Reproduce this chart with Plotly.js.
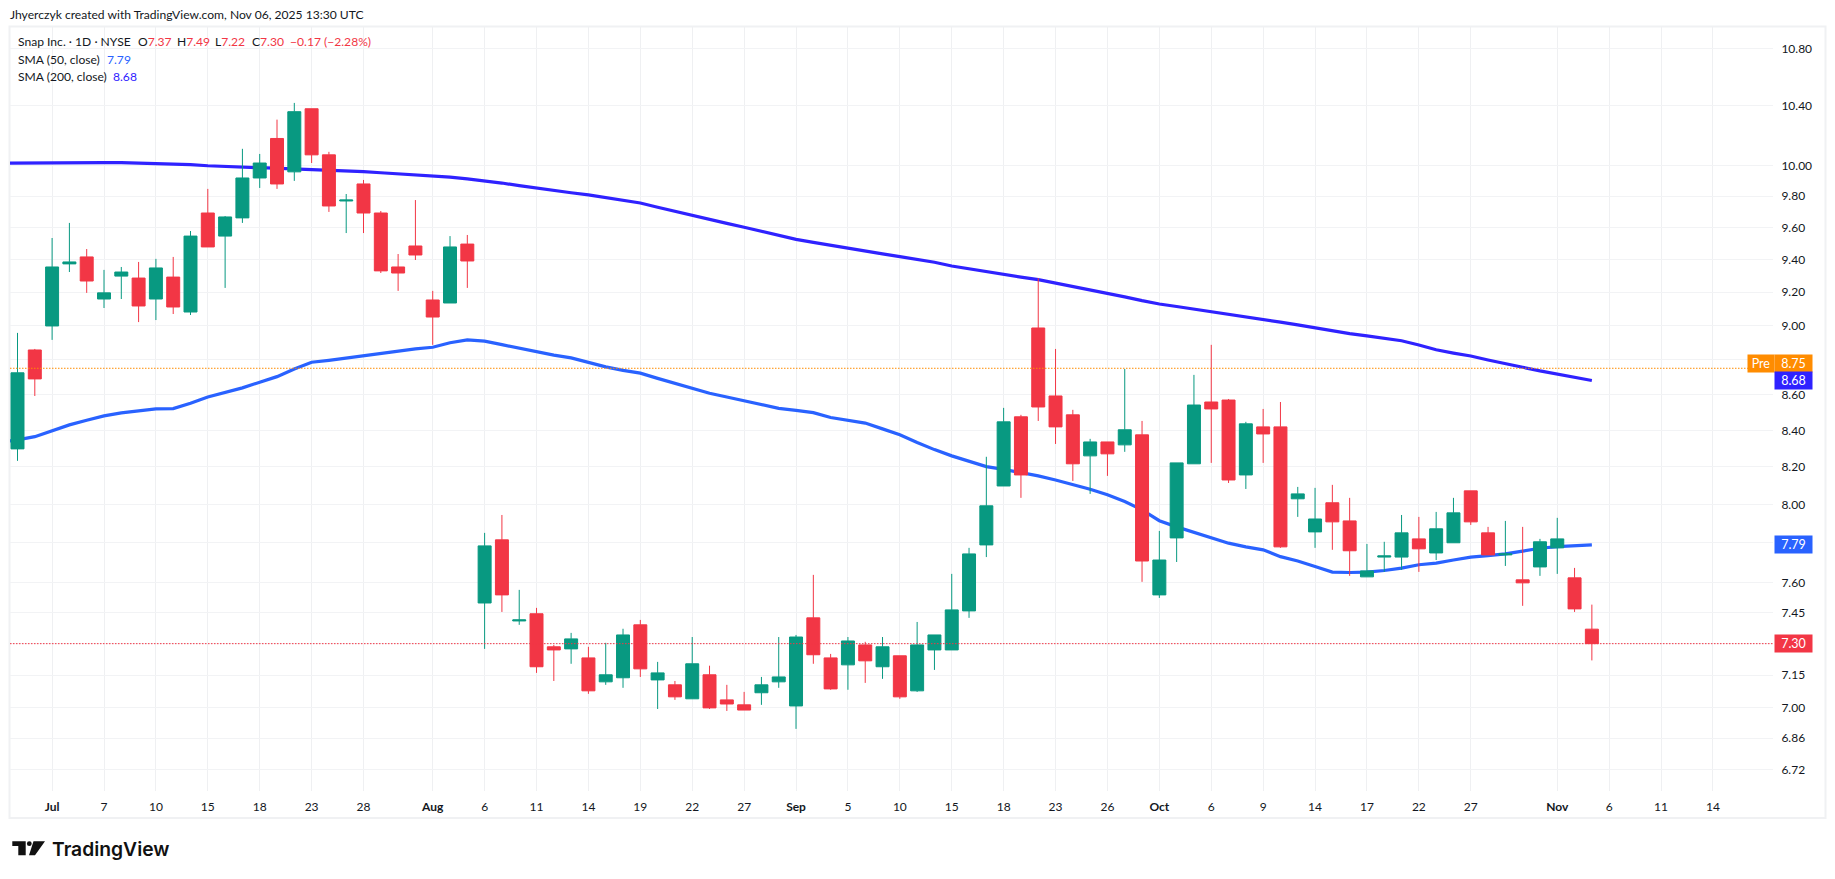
<!DOCTYPE html>
<html>
<head>
<meta charset="utf-8">
<script src="https://cdn.plot.ly/plotly-3.0.1.min.js"></script>
<style>html,body{margin:0;padding:0;background:#fff;overflow:hidden}#chart{width:1835px;height:879px}</style>
</head>
<body>
<div id="chart"></div>
<script>
const priorSession = ["Jun26"];
const sessions = ["Jun27","Jun30","Jul1","Jul2","Jul3","Jul7","Jul8","Jul9","Jul10","Jul11","Jul14","Jul15","Jul16","Jul17","Jul18","Jul21","Jul22","Jul23","Jul24","Jul25","Jul28","Jul29","Jul30","Jul31","Aug1","Aug4","Aug5","Aug6","Aug7","Aug8","Aug11","Aug12","Aug13","Aug14","Aug15","Aug18","Aug19","Aug20","Aug21","Aug22","Aug25","Aug26","Aug27","Aug28","Aug29","Sep2","Sep3","Sep4","Sep5","Sep8","Sep9","Sep10","Sep11","Sep12","Sep15","Sep16","Sep17","Sep18","Sep19","Sep22","Sep23","Sep24","Sep25","Sep26","Sep29","Sep30","Oct1","Oct2","Oct3","Oct6","Oct7","Oct8","Oct9","Oct10","Oct13","Oct14","Oct15","Oct16","Oct17","Oct20","Oct21","Oct22","Oct23","Oct24","Oct27","Oct28","Oct29","Oct30","Oct31","Nov3","Nov4","Nov5"];
const futureSessions = ["Nov6","Nov7","Nov10","Nov11","Nov12","Nov13","Nov14"];

const opens = [8.298,8.856,8.997,9.372,9.415,9.158,9.297,9.285,9.158,9.291,
9.080,9.691,9.545,9.660,9.917,10.178,9.957,10.379,10.069,9.768,
9.878,9.691,9.353,9.483,9.152,9.134,9.495,7.498,7.816,7.410,
7.445,7.285,7.275,7.232,7.119,7.138,7.391,7.128,7.105,7.040,
7.152,7.035,7.012,7.068,7.119,7.007,7.425,7.232,7.199,7.294,
7.190,7.242,7.077,7.270,7.270,7.459,7.790,8.098,8.475,8.985,
8.592,8.486,8.260,8.336,8.320,8.375,7.538,7.826,8.217,8.558,
8.569,8.157,8.419,8.419,8.030,7.857,8.009,7.914,7.628,7.728,
7.728,7.821,7.749,7.801,8.072,7.852,7.739,7.613,7.678,7.775,
7.623,7.37];
const highs = [8.956,8.862,9.533,9.628,9.464,9.335,9.353,9.384,9.403,9.415,
9.577,9.846,9.672,10.109,10.075,10.305,10.419,10.379,10.089,9.813,
9.904,9.704,9.433,9.774,9.207,9.545,9.552,7.852,7.945,7.563,
7.474,7.294,7.352,7.285,7.304,7.372,7.415,7.213,7.123,7.332,
7.195,7.105,7.072,7.142,7.332,7.342,7.638,7.251,7.332,7.309,
7.332,7.242,7.405,7.342,7.643,7.775,8.255,8.525,8.486,9.285,
8.862,8.514,8.353,8.336,8.746,8.452,7.862,8.222,8.712,8.886,
8.575,8.447,8.519,8.558,8.093,8.088,8.104,8.035,7.795,7.806,
7.945,7.935,7.961,8.035,8.072,7.883,7.914,7.883,7.821,7.930,
7.673,7.49];
const lows = [8.233,8.592,8.915,9.322,9.195,9.104,9.158,9.020,9.032,9.068,
9.062,9.477,9.225,9.628,9.852,9.846,9.898,10.015,9.698,9.564,
9.564,9.316,9.207,9.396,8.886,9.134,9.225,7.275,7.454,7.391,
7.161,7.123,7.204,7.063,7.105,7.091,7.142,6.993,7.035,7.040,
6.993,6.984,6.988,7.012,7.091,6.902,7.204,7.082,7.082,7.114,
7.133,7.040,7.072,7.175,7.270,7.425,7.728,8.098,8.035,8.452,
8.325,8.125,8.056,8.152,8.282,7.603,7.523,7.703,8.217,8.222,
8.114,8.082,8.222,7.775,7.935,7.775,7.765,7.633,7.628,7.653,
7.663,7.653,7.713,7.801,7.893,7.739,7.683,7.484,7.633,7.643,
7.454,7.22];
const closes = [8.724,8.689,9.353,9.384,9.267,9.195,9.322,9.116,9.347,9.110,
9.545,9.477,9.666,9.917,10.015,9.878,10.359,10.069,9.736,9.774,
9.691,9.329,9.316,9.427,9.050,9.477,9.390,7.785,7.538,7.415,
7.190,7.270,7.323,7.077,7.152,7.342,7.180,7.161,7.049,7.204,
6.998,7.016,6.988,7.105,7.142,7.332,7.247,7.086,7.313,7.218,
7.285,7.049,7.294,7.342,7.464,7.744,7.993,8.447,8.157,8.530,
8.419,8.217,8.336,8.271,8.403,7.708,7.713,8.222,8.541,8.519,
8.130,8.436,8.380,7.780,8.056,7.924,7.909,7.760,7.658,7.734,
7.852,7.770,7.873,7.956,7.909,7.739,7.744,7.598,7.806,7.821,
7.469,7.30];
const sma50 = [8.334,8.347,8.365,8.397,8.430,8.456,8.480,8.497,8.510,8.519,8.521,
8.551,8.586,8.611,8.638,8.670,8.702,8.746,8.785,8.796,8.810,
8.821,8.837,8.849,8.862,8.872,8.898,8.915,8.908,8.887,8.865,
8.845,8.826,8.810,8.785,8.758,8.738,8.722,8.692,8.664,8.636,
8.607,8.586,8.565,8.542,8.522,8.511,8.498,8.471,8.456,8.440,
8.408,8.375,8.333,8.294,8.260,8.230,8.202,8.187,8.171,8.152,
8.130,8.106,8.081,8.051,8.016,7.972,7.915,7.883,7.854,7.828,
7.799,7.780,7.765,7.730,7.708,7.680,7.652,7.650,7.652,7.660,
7.672,7.689,7.697,7.713,7.728,7.735,7.744,7.758,7.773,7.781,
7.785,7.79];
const sma200 = [10.014,10.015,10.018,10.019,10.020,10.019,10.017,10.017,10.015,10.012,10.007,
10.004,9.997,9.993,9.989,9.985,9.981,9.976,9.972,9.968,9.963,
9.959,9.951,9.944,9.938,9.931,9.922,9.911,9.900,9.884,9.867,
9.850,9.835,9.821,9.807,9.789,9.771,9.755,9.728,9.701,9.674,
9.650,9.625,9.601,9.575,9.550,9.524,9.506,9.487,9.469,9.451,
9.434,9.417,9.399,9.382,9.359,9.341,9.322,9.307,9.291,9.275,
9.255,9.234,9.213,9.192,9.171,9.148,9.128,9.113,9.098,9.082,
9.068,9.052,9.038,9.020,9.003,8.985,8.968,8.952,8.939,8.924,
8.910,8.885,8.857,8.838,8.821,8.798,8.775,8.756,8.735,8.718,
8.701,8.68];

const priceTicks = [10.8,10.4,10,9.8,9.6,9.4,9.2,9,8.8,8.6,8.4,8.2,8,7.8,7.6,7.45,7.3,7.15,7,6.86,6.72];
const timeTickKeys = ["Jul1","Jul7","Jul10","Jul15","Jul18","Jul23","Jul28","Aug1","Aug6","Aug11","Aug14","Aug19","Aug22","Aug27","Sep2","Sep5","Sep10","Sep15","Sep18","Sep23","Sep26","Oct1","Oct6","Oct9","Oct14","Oct17","Oct22","Oct27","Nov3","Nov6","Nov11","Nov14"];
const timeTickLabels = ["<b>Jul</b>","7","10","15","18","23","28","<b>Aug</b>","6","11","14","19","22","27","<b>Sep</b>","5","10","15","18","23","26","<b>Oct</b>","6","9","14","17","22","27","<b>Nov</b>","6","11","14"];

const UP = "#089981", DOWN = "#F23645", BLUE50 = "#2962FF", BLUE200 = "#2F22FF", PRE = "#FF8C00", INK = "#131722";
const FONT = "Lato, 'Noto Sans', sans-serif";
const lastClose = 7.30, prePrice = 8.75, last50 = 7.79, last200 = 8.68;

const fx = px => (px - 10) / 1763, fy = py => (791 - py) / 764;
const yLog = [1 - (791 - 165.3) / 3500, 1 + (165.3 - 27) / 3500];

const allCats = priorSession.concat(sessions, futureSessions);
const smaX = priorSession.concat(sessions);

const traces = [
  {type:"scatter", mode:"lines", x:smaX, y:sma200, xaxis:"x", yaxis:"y", line:{color:BLUE200,width:3.2}, hoverinfo:"skip"},
  {type:"scatter", mode:"lines", x:smaX, y:sma50, xaxis:"x", yaxis:"y", line:{color:BLUE50,width:3.2}, hoverinfo:"skip"},
  {type:"candlestick", x:sessions, open:opens, high:highs, low:lows, close:closes, xaxis:"x", yaxis:"y2",
   increasing:{line:{color:UP,width:1},fillcolor:UP}, decreasing:{line:{color:DOWN,width:1},fillcolor:DOWN}, whiskerwidth:0, hoverinfo:"skip"}
];

function note(px, py, text, extra){
  return Object.assign({xref:"paper", yref:"paper", x:fx(px), y:fy(py), text, showarrow:false, xanchor:"left", yanchor:"middle",
    font:{family:FONT,size:12.1,color:INK}}, extra||{});
}
function tag(price, text, color, shift){
  return {xref:"paper", yref:"y", x:fx(1774), y:Math.log10(price), text, showarrow:false, xanchor:"left", yanchor:"middle",
    yshift:shift||0, bgcolor:color, width:37, height:17, borderpad:0, align:"center", font:{family:FONT,size:12.5,color:"#fff"}};
}
const red = s => `<span style="color:${DOWN}">${s}</span>`;

const annotations = [
  note(8,15,"Jhyerczyk created with TradingView.com, Nov 06, 2025 13:30 UTC"),
  note(16,41.7,"Snap Inc. · 1D · NYSE"),
  note(136,41.7,"O"+red("7.37")), note(175,41.7,"H"+red("7.49")), note(213,41.7,"L"+red("7.22")), note(250,41.7,"C"+red("7.30")),
  note(288,41.7,red("−0.17 (−2.28%)")),
  note(16,59,"SMA (50, close)"), note(105,59,`<span style="color:${BLUE50}">7.79</span>`),
  note(16,76,"SMA (200, close)"), note(111,76,`<span style="color:${BLUE200}">8.68</span>`),
  note(49.5,848.7,"TradingView",{font:{family:"Inter, sans-serif",size:19.3,weight:600,color:"#111"}}),
  tag(prePrice,"8.75",PRE,5),
  Object.assign(tag(prePrice,"Pre",PRE,5),{x:fx(1747),width:26}),
  tag(last200,"8.68",BLUE200),
  tag(last50,"7.79",BLUE50),
  tag(lastClose,"7.30",DOWN)
];

const logoPath = [
  [[12.3,841.3],[25.7,841.3],[25.7,855.3],[18.3,855.3],[18.3,846],[12.3,846]],
  [[33.5,841.3],[45,841.3],[35,855.3],[29,855.3]]
].map(poly => "M" + poly.map(p => fx(p[0]) + "," + fy(p[1])).join("L") + "Z").join(" ");

const shapes = [
  {type:"rect", xref:"paper", yref:"paper", x0:fx(9.5), x1:fx(1825.5), y0:fy(818), y1:fy(26.5), line:{color:"#f0f1f3",width:2}, layer:"below"},
  {type:"line", xref:"paper", yref:"y", x0:0, x1:1, y0:prePrice, y1:prePrice, line:{color:PRE,width:1,dash:"1.5px,1.5px"}, layer:"above"},
  {type:"line", xref:"paper", yref:"y", x0:0, x1:1, y0:lastClose, y1:lastClose, line:{color:DOWN,width:1,dash:"1.5px,1.5px"}, layer:"above"},
  {type:"path", xref:"paper", yref:"paper", path:logoPath, fillcolor:"#111", line:{width:0}},
  {type:"circle", xref:"paper", yref:"paper", x0:fx(26.9), x1:fx(31.7), y0:fy(846.1), y1:fy(841.3), fillcolor:"#111", line:{width:0}}
];

const layout = {
  width:1835, height:879, paper_bgcolor:"#fff", plot_bgcolor:"#fff",
  margin:{l:10,r:62,t:27,b:88,pad:0}, showlegend:false, hovermode:false, dragmode:false,
  boxgap:0.25, boxgroupgap:0,
  font:{family:FONT,size:12,color:INK},
  xaxis:{type:"category", categoryorder:"array", categoryarray:allCats, range:[0.5665,102.47], rangeslider:{visible:false},
    tickmode:"array", tickvals:timeTickKeys, ticktext:timeTickLabels, ticks:"outside", ticklen:5, tickcolor:"rgba(0,0,0,0)",
    showgrid:true, gridcolor:"#eff0f2", gridwidth:1, zeroline:false, showline:false, tickangle:0,
    tickfont:{family:FONT,size:12,color:INK}, automargin:false},
  yaxis:{type:"log", side:"right", range:yLog, tickmode:"array", tickvals:priceTicks, ticktext:priceTicks.map(v=>v.toFixed(2)),
    ticks:"outside", ticklen:5, tickcolor:"rgba(0,0,0,0)", showgrid:true, gridcolor:"#f2f3f5", gridwidth:1, zeroline:false, showline:false,
    tickfont:{family:FONT,size:12,color:INK}, automargin:false},
  yaxis2:{type:"log", overlaying:"y", side:"right", range:yLog, visible:false},
  annotations, shapes
};

Plotly.newPlot("chart", traces, layout, {displayModeBar:false, staticPlot:true});
</script>
</body>
</html>
